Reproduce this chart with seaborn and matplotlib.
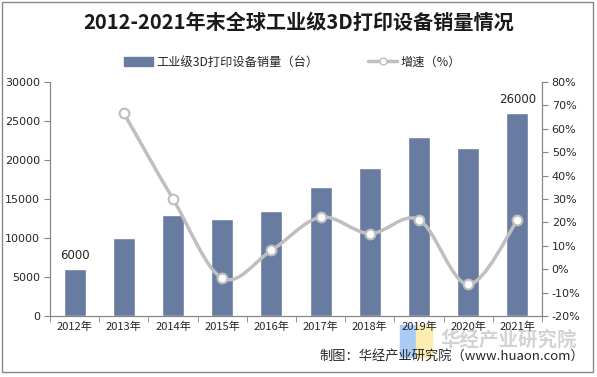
import matplotlib
matplotlib.use('Agg')
import matplotlib.pyplot as plt
import seaborn as sns
import numpy as np
import pandas as pd
from matplotlib.path import Path
from matplotlib.patches import PathPatch, Rectangle
from matplotlib.lines import Line2D
from matplotlib.ticker import FuncFormatter, FixedLocator

# ---------------- данные ----------------
years = ['2012年', '2013年', '2014年', '2015年', '2016年',
         '2017年', '2018年', '2019年', '2020年', '2021年']
sales = [6000, 10000, 13000, 12500, 13500, 16500, 19000, 23000, 21500, 26000]
growth = [None, 66.7, 30.0, -3.8, 8.0, 22.2, 15.2, 21.1, -6.5, 20.9]

BAR_COLOR = '#687BA0'
LINE_COLOR = '#BFBFBF'
AX_COLOR = '#868686'

sns.set_style('white')
plt.rcParams['font.family'] = ['Noto Sans CJK SC', 'DejaVu Sans']

fig = plt.figure(figsize=(5.97, 3.77), dpi=100)
ax = fig.add_axes([50 / 597, 1 - 316 / 377, 492 / 597, 234 / 377])

df = pd.DataFrame({'year': years, 'sales': sales})
sns.barplot(data=df, x='year', y='sales', color=BAR_COLOR, width=0.45,
            saturation=1, ax=ax)
ax.set_xlim(-0.5, len(years) - 0.5)
ax.set_ylim(0, 30000)
ax.set_yticks(range(0, 30001, 5000))
ax.set_xlabel('')
ax.set_ylabel('')

ax2 = ax.twinx()
ax2.set_ylim(-20, 80)
ax2.set_yticks(range(-20, 81, 10))
ax2.yaxis.set_major_formatter(FuncFormatter(lambda v, p: f'{v:.0f}%'))

# сглаженная линия (Безье по точкам, как в Excel)
xs = [i for i, g in enumerate(growth) if g is not None]
ys = [g for g in growth if g is not None]
pts = np.array(list(zip(xs, ys)), dtype=float)
verts = [tuple(pts[0])]
codes = [Path.MOVETO]
n = len(pts)
for i in range(n - 1):
    p0 = pts[i - 1] if i > 0 else pts[i]
    p1 = pts[i]
    p2 = pts[i + 1]
    p3 = pts[i + 2] if i + 2 < n else pts[i + 1]
    c1 = p1 + (p2 - p0) / 6
    c2 = p2 - (p3 - p1) / 6
    verts += [tuple(c1), tuple(c2), tuple(p2)]
    codes += [Path.CURVE4] * 3
ax2.add_patch(PathPatch(Path(verts, codes), fill=False, edgecolor=LINE_COLOR,
                        lw=2.5, capstyle='round', zorder=3))
ax2.plot(xs, ys, ls='none', marker='o', ms=7, mfc='white', mec=LINE_COLOR,
         mew=1.5, zorder=4)

# подписи значений
for i in (0, len(sales) - 1):
    ax.text(i, sales[i] + 900, f'{sales[i]}', ha='center', va='bottom',
            fontsize=8.5, color='#262626', family='DejaVu Sans')

# оси
for a in (ax, ax2):
    a.spines['top'].set_visible(False)
    for s in ('left', 'right', 'bottom'):
        a.spines[s].set_color(AX_COLOR)
        a.spines[s].set_linewidth(0.8)
ax.tick_params(axis='y', direction='out', length=4, color=AX_COLOR,
               labelsize=8, labelcolor='#262626', left=True, pad=3)
ax2.tick_params(axis='y', direction='out', length=4, color=AX_COLOR,
                labelsize=8, labelcolor='#262626', right=True, pad=3)
ax.tick_params(axis='x', length=0, labelsize=8, labelcolor='#262626', pad=4)
ax.xaxis.set_minor_locator(FixedLocator(np.arange(-0.5, len(years), 1)))
ax.tick_params(axis='x', which='minor', direction='out', length=4,
               color=AX_COLOR, bottom=True)
for lbl in ax.get_yticklabels() + ax2.get_yticklabels():
    lbl.set_family('DejaVu Sans')

# заголовок и легенда
fig.text(0.5, 1 - 22 / 377, '2012-2021年末全球工业级3D打印设备销量情况',
         ha='center', va='center', fontsize=14.5, fontweight='bold', color='#1a1a1a')
handles = [Rectangle((0, 0), 1, 1, color=BAR_COLOR),
           Line2D([], [], color=LINE_COLOR, lw=2.5, marker='o', ms=5,
                  mfc='white', mec=LINE_COLOR)]
fig.legend(handles, ['工业级3D打印设备销量（台）', '增速（%）'], loc='center',
           bbox_to_anchor=(0.49, 1 - 62 / 377), ncol=2, frameon=False,
           fontsize=8.8, handlelength=2.4, handletextpad=0.3, columnspacing=4)

# водяной знак и источник
fig.patches.append(Rectangle((400 / 597, 1 - 357 / 377), 16 / 597, 32 / 377,
                             transform=fig.transFigure, color='#A9CBF5', zorder=-1))
fig.patches.append(Rectangle((416 / 597, 1 - 357 / 377), 16 / 597, 32 / 377,
                             transform=fig.transFigure, color='#FBEDB0', zorder=-1))
fig.text(509 / 597, 1 - 340 / 377, '华经产业研究院', ha='center', va='center',
         fontsize=14, fontweight='bold', color='#CFCFCF', alpha=0.9, zorder=-1)
fig.text(584 / 597, 1 - 356 / 377, '制图：华经产业研究院（www.huaon.com）',
         ha='right', va='center', fontsize=9.5, color='#262626')

# рамка
fig.patches.append(Rectangle((2 / 597, 1 - 372 / 377), 591 / 597, 370 / 377,
                             transform=fig.transFigure, fill=False,
                             edgecolor='#888888', lw=1))

fig.savefig('out.png', dpi=100)
